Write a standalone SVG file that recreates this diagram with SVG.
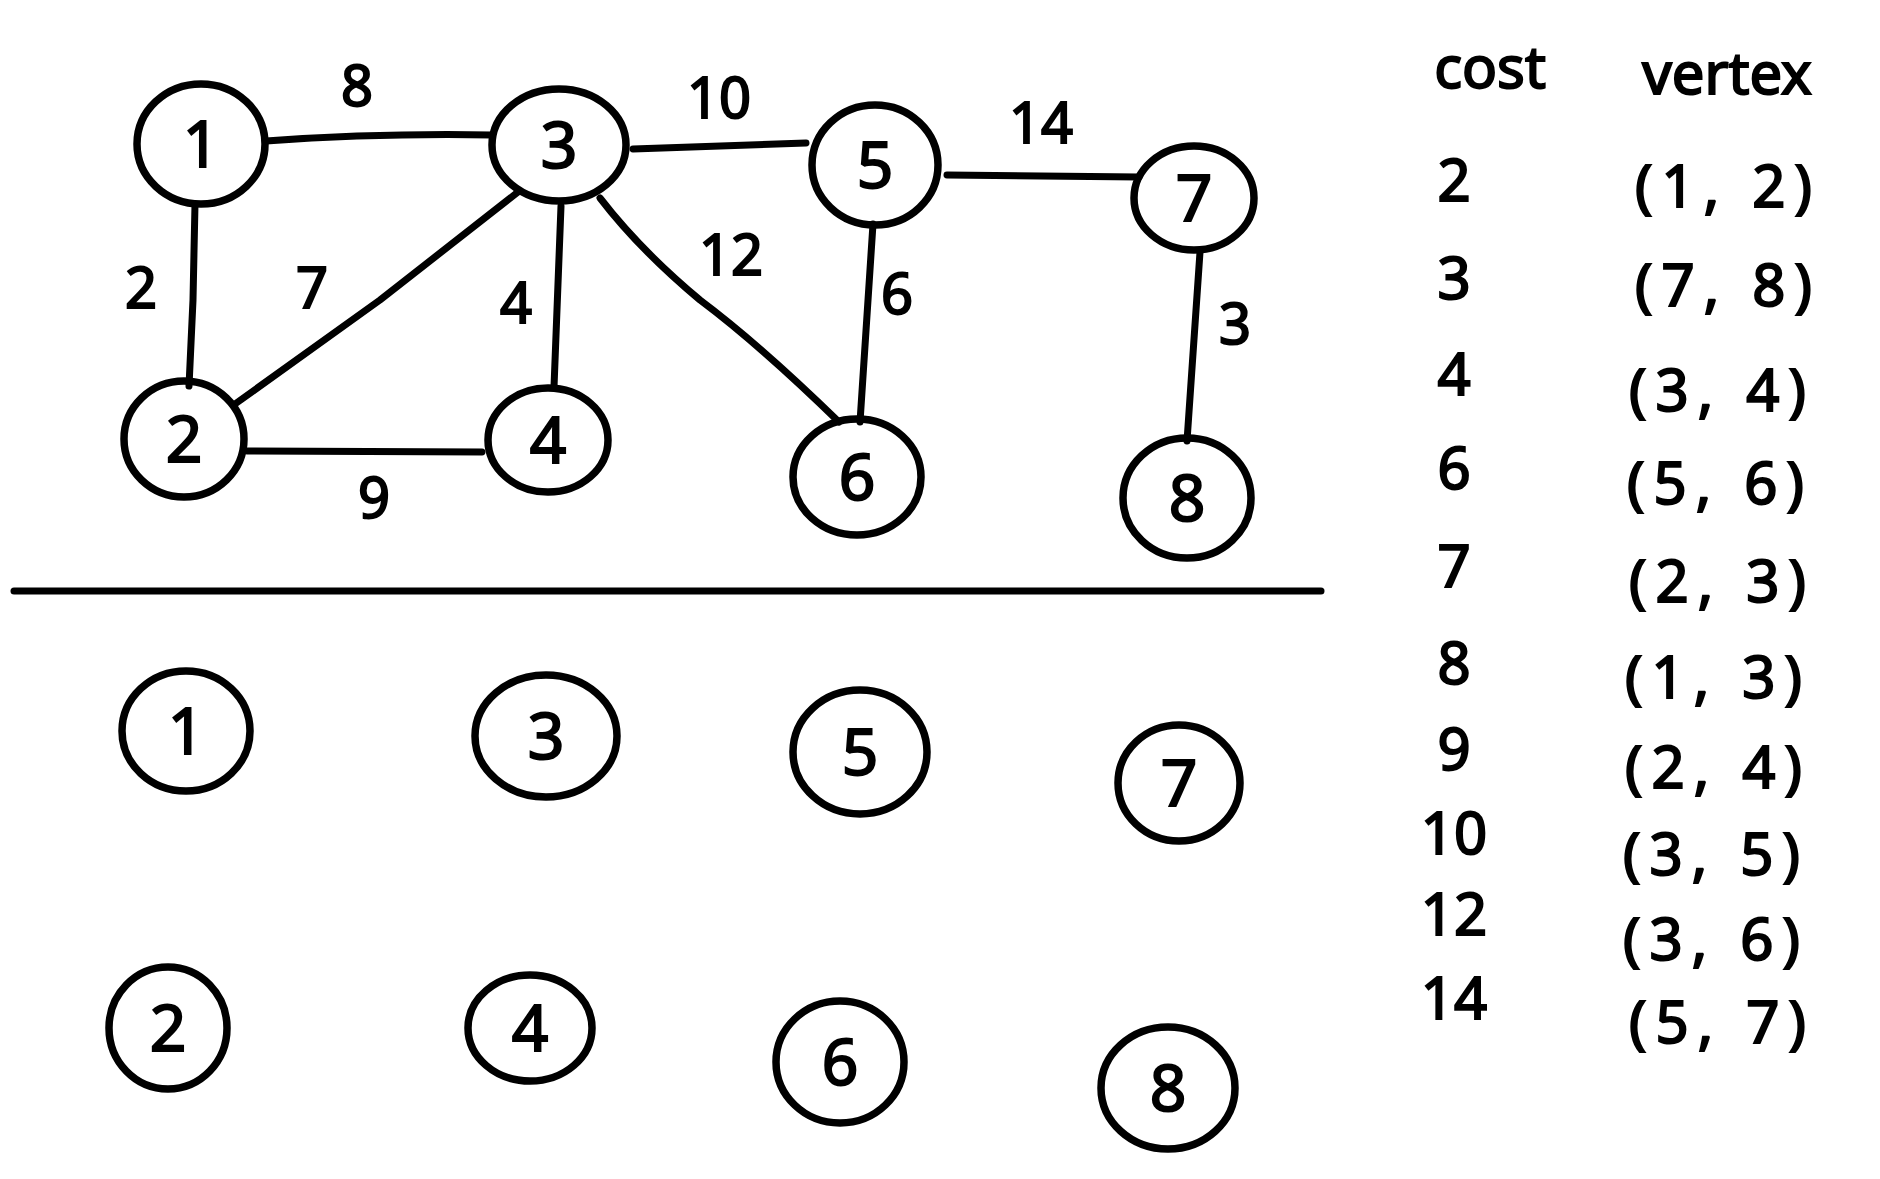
<svg xmlns="http://www.w3.org/2000/svg" width="1880" height="1179" viewBox="0 0 1880 1179">
<style>
.n{fill:none;stroke:#000;stroke-width:7.5;stroke-linecap:round}
.e{fill:none;stroke:#000;stroke-width:7;stroke-linecap:round;stroke-linejoin:round}
.t{font-family:"Noto Sans","Liberation Sans",sans-serif;text-anchor:middle;fill:#000;stroke:#000;stroke-width:2}
.nl{font-size:64px}
.el{font-size:56px}
.tb{font-size:58px}
.vx{letter-spacing:9px}
</style>
<rect width="1880" height="1179" fill="#fff"/>
<g id="edges">
<path class="e" d="M195,204 L193,300 L189,386"/>
<path class="e" d="M266,141 Q380,133 492,135"/>
<path class="e" d="M633,149 L806,143"/>
<path class="e" d="M947,175 L1139,177"/>
<path class="e" d="M235,404 L380,300 L518,192"/>
<path class="e" d="M561,206 L554,387"/>
<path class="e" d="M600,198 Q640,250 700,300 Q760,345 839,422"/>
<path class="e" d="M873,224 L860,422"/>
<path class="e" d="M1200,252 L1187,441"/>
<path class="e" d="M247,451 L482,452"/>
<path class="e" d="M14,591 L1321,591"/>
</g>
<g id="edge-labels">
<text class="t el" x="357" y="106">8</text>
<text class="t el" x="719" y="118">10</text>
<text class="t el" x="1041" y="143">14</text>
<text class="t el" x="141" y="308">2</text>
<text class="t el" x="312" y="308">7</text>
<text class="t el" x="516" y="323">4</text>
<text class="t el" x="731" y="275">12</text>
<text class="t el" x="897" y="314">6</text>
<text class="t el" x="1235" y="344">3</text>
<text class="t el" x="374" y="518">9</text>
</g>
<g id="node-t1"><ellipse class="n" cx="201" cy="144" rx="64" ry="60"/><text class="t nl" x="201" y="167">1</text></g>
<g id="node-t3"><ellipse class="n" cx="559" cy="145" rx="67" ry="56"/><text class="t nl" x="559" y="168">3</text></g>
<g id="node-t5"><ellipse class="n" cx="875" cy="165" rx="63" ry="60"/><text class="t nl" x="875" y="188">5</text></g>
<g id="node-t7"><ellipse class="n" cx="1194" cy="198" rx="60" ry="52"/><text class="t nl" x="1194" y="221">7</text></g>
<g id="node-t2"><ellipse class="n" cx="184" cy="439" rx="60" ry="58"/><text class="t nl" x="184" y="462">2</text></g>
<g id="node-t4"><ellipse class="n" cx="548" cy="440" rx="60" ry="52"/><text class="t nl" x="548" y="463">4</text></g>
<g id="node-t6"><ellipse class="n" cx="857" cy="477" rx="64" ry="58"/><text class="t nl" x="857" y="500">6</text></g>
<g id="node-t8"><ellipse class="n" cx="1187" cy="498" rx="64" ry="60"/><text class="t nl" x="1187" y="521">8</text></g>
<g id="node-b1"><ellipse class="n" cx="186" cy="731" rx="64" ry="60"/><text class="t nl" x="186" y="754">1</text></g>
<g id="node-b3"><ellipse class="n" cx="546" cy="736" rx="71" ry="61"/><text class="t nl" x="546" y="759">3</text></g>
<g id="node-b5"><ellipse class="n" cx="860" cy="752" rx="67" ry="62"/><text class="t nl" x="860" y="775">5</text></g>
<g id="node-b7"><ellipse class="n" cx="1179" cy="783" rx="61" ry="58"/><text class="t nl" x="1179" y="806">7</text></g>
<g id="node-b2"><ellipse class="n" cx="168" cy="1028" rx="59" ry="61"/><text class="t nl" x="168" y="1051">2</text></g>
<g id="node-b4"><ellipse class="n" cx="530" cy="1028" rx="62" ry="53"/><text class="t nl" x="530" y="1051">4</text></g>
<g id="node-b6"><ellipse class="n" cx="840" cy="1062" rx="64" ry="61"/><text class="t nl" x="840" y="1085">6</text></g>
<g id="node-b8"><ellipse class="n" cx="1168" cy="1088" rx="67" ry="61"/><text class="t nl" x="1168" y="1111">8</text></g>
<g id="table">
<text class="t tb" x="1490" y="88">cost</text>
<text class="t tb" x="1727" y="94">vertex</text>
<text class="t tb" x="1454" y="201">2</text>
<text class="t tb" x="1454" y="299">3</text>
<text class="t tb" x="1454" y="395">4</text>
<text class="t tb" x="1454" y="489">6</text>
<text class="t tb" x="1454" y="587">7</text>
<text class="t tb" x="1454" y="684">8</text>
<text class="t tb" x="1454" y="770">9</text>
<text class="t tb" x="1454" y="854">10</text>
<text class="t tb" x="1454" y="935">12</text>
<text class="t tb" x="1454" y="1019">14</text>
<text class="t tb vx" x="1728" y="207">(1, 2)</text>
<text class="t tb vx" x="1728" y="306">(7, 8)</text>
<text class="t tb vx" x="1722" y="411">(3, 4)</text>
<text class="t tb vx" x="1720" y="504">(5, 6)</text>
<text class="t tb vx" x="1722" y="602">(2, 3)</text>
<text class="t tb vx" x="1718" y="698">(1, 3)</text>
<text class="t tb vx" x="1718" y="788">(2, 4)</text>
<text class="t tb vx" x="1716" y="875">(3, 5)</text>
<text class="t tb vx" x="1716" y="960">(3, 6)</text>
<text class="t tb vx" x="1722" y="1043">(5, 7)</text>
</g>
</svg>
